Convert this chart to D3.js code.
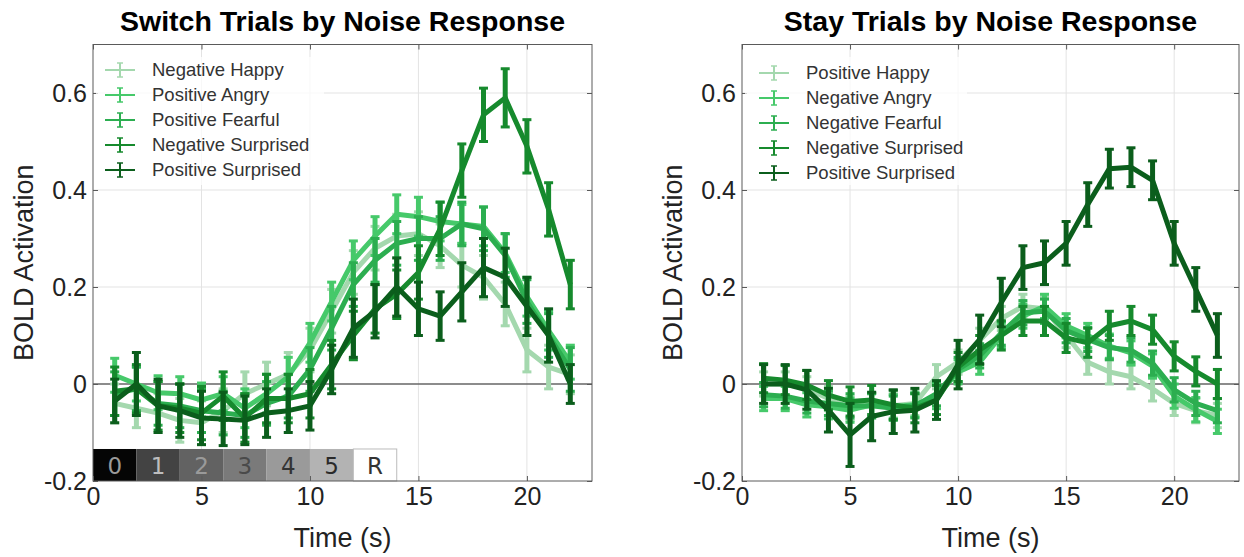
<!DOCTYPE html>
<html><head><meta charset="utf-8">
<script src="https://cdnjs.cloudflare.com/ajax/libs/d3/7.8.5/d3.min.js"></script>
<style>body{margin:0;background:#fff}svg{display:block}</style>
</head><body>
<script>
// ---------- DATA ----------
const times = [1,2,3,4,5,6,7,8,9,10,11,12,13,14,15,16,17,18,19,20,21,22];
const xTicks = [0,5,10,15,20];
const yTicks = [-0.2,0,0.2,0.4,0.6];
const yTickLabels = ["-0.2","0","0.2","0.4","0.6"];

const switchNames = ["Negative Happy","Positive Angry","Positive Fearful","Negative Surprised","Positive Surprised"];
const switchNegHappy     = [-0.04,-0.05,-0.06,-0.075,-0.08,-0.055,-0.02,0.0,0.02,0.07,0.15,0.23,0.28,0.305,0.31,0.285,0.245,0.22,0.165,0.07,0.035,0.02];
const switchPosAngry     = [0.018,0.0,-0.018,-0.02,-0.033,-0.02,-0.05,-0.02,0.015,0.085,0.17,0.255,0.305,0.35,0.345,0.335,0.33,0.325,0.27,0.18,0.11,0.045];
const switchPosFearful   = [-0.02,-0.01,-0.04,-0.045,-0.055,-0.06,-0.065,-0.04,-0.025,0.03,0.115,0.205,0.255,0.29,0.3,0.3,0.33,0.32,0.265,0.17,0.1,0.03];
const switchNegSurprised = [-0.015,-0.01,-0.045,-0.05,-0.06,-0.025,-0.07,-0.03,-0.03,-0.02,0.04,0.1,0.155,0.185,0.23,0.32,0.44,0.555,0.59,0.49,0.36,0.205];
const switchPosSurprised = [-0.035,0.0,-0.045,-0.055,-0.07,-0.072,-0.075,-0.06,-0.055,-0.045,0.03,0.115,0.15,0.2,0.155,0.14,0.19,0.24,0.22,0.16,0.1,0.0];
const switchErrNegHappy     = [0.04,0.04,0.04,0.045,0.045,0.045,0.045,0.045,0.045,0.045,0.045,0.045,0.045,0.045,0.045,0.045,0.045,0.045,0.045,0.045,0.045,0.04];
const switchErrPosAngry     = [0.035,0.035,0.035,0.035,0.035,0.035,0.04,0.04,0.04,0.04,0.04,0.04,0.04,0.04,0.04,0.04,0.04,0.04,0.04,0.04,0.04,0.035];
const switchErrPosFearful   = [0.045,0.045,0.045,0.045,0.045,0.045,0.045,0.045,0.045,0.045,0.045,0.045,0.045,0.045,0.045,0.045,0.045,0.045,0.045,0.045,0.045,0.045];
const switchErrNegSurprised = [0.05,0.05,0.05,0.05,0.055,0.05,0.05,0.05,0.05,0.05,0.05,0.05,0.05,0.05,0.055,0.055,0.055,0.055,0.06,0.055,0.055,0.05];
const switchErrPosSurprised = [0.045,0.065,0.055,0.055,0.055,0.055,0.05,0.05,0.045,0.05,0.05,0.06,0.055,0.06,0.055,0.05,0.06,0.06,0.06,0.06,0.055,0.04];

const stayNames = ["Positive Happy","Negative Angry","Negative Fearful","Negative Surprised","Positive Surprised"];
const stayPosHappy     = [0.0,0.0,-0.01,-0.03,-0.05,-0.045,-0.045,-0.04,0.015,0.045,0.09,0.135,0.16,0.155,0.1,0.045,0.025,0.015,-0.01,-0.04,-0.055,-0.065];
const stayNegAngry     = [-0.03,-0.03,-0.043,-0.047,-0.054,-0.043,-0.047,-0.043,-0.026,0.025,0.045,0.1,0.14,0.16,0.12,0.1,0.078,0.064,0.037,-0.025,-0.053,-0.077];
const stayNegFearful   = [-0.022,-0.025,-0.035,-0.04,-0.045,-0.045,-0.05,-0.045,-0.02,0.03,0.058,0.105,0.147,0.15,0.11,0.092,0.075,0.07,0.043,-0.012,-0.04,-0.055];
const stayNegSurprised = [0.012,0.008,-0.002,-0.023,-0.036,-0.033,-0.043,-0.05,-0.033,0.035,0.07,0.1,0.13,0.13,0.095,0.085,0.12,0.13,0.112,0.057,0.026,0.0];
const stayPosSurprised = [0.0,0.0,-0.012,-0.054,-0.105,-0.067,-0.057,-0.054,-0.033,0.04,0.092,0.168,0.24,0.25,0.29,0.37,0.444,0.447,0.42,0.29,0.195,0.1];
const stayErrPosHappy     = [0.025,0.025,0.025,0.025,0.025,0.025,0.025,0.025,0.025,0.025,0.025,0.025,0.025,0.025,0.025,0.025,0.025,0.025,0.025,0.025,0.025,0.025];
const stayErrNegAngry     = [0.025,0.025,0.025,0.025,0.025,0.025,0.025,0.025,0.025,0.025,0.025,0.025,0.025,0.025,0.025,0.025,0.025,0.025,0.025,0.025,0.025,0.025];
const stayErrNegFearful   = [0.025,0.025,0.025,0.025,0.025,0.025,0.025,0.025,0.025,0.025,0.025,0.025,0.025,0.025,0.025,0.025,0.025,0.025,0.025,0.025,0.025,0.025];
const stayErrNegSurprised = [0.03,0.03,0.03,0.03,0.03,0.03,0.03,0.03,0.03,0.03,0.03,0.03,0.03,0.03,0.03,0.03,0.03,0.03,0.03,0.03,0.03,0.03];
const stayErrPosSurprised = [0.04,0.04,0.04,0.045,0.065,0.05,0.045,0.045,0.04,0.05,0.05,0.05,0.045,0.045,0.045,0.045,0.04,0.04,0.04,0.045,0.045,0.045];

const phaseLabels = ["0","1","2","3","4","5","R"];
const phaseStarts = [0,2,4,6,8,10,12];
const phaseWidth = 2;

// ---------- STYLES ----------
const seriesColors = ["#a4d8ae","#46c96a","#2cae50","#168a2d","#0b5e1c"];
const phaseFills = ["#050505","#434343","#626262","#7a7a7a","#9a9a9a","#b3b3b3","#ffffff"];
const phaseText  = ["#9a9a9a","#bdbdbd","#9a9a9a","#4a4a4a","#333333","#2a2a2a","#333333"];

const W = 1244, H = 557;
const svg = d3.select("body").append("svg").attr("width", W).attr("height", H);
const FONT = "'Liberation Sans', Arial, Helvetica, sans-serif";

function panel(opts) {
  const x = d3.scaleLinear().domain([0,23]).range(opts.xr);
  const y = d3.scaleLinear().domain([-0.2,0.7]).range([481,44.5]);
  const g = svg.append("g");
  const [x0,x1] = opts.xr, y0 = 481, y1 = 44.5;

  // grid
  g.selectAll(".gx").data(xTicks.filter(t=>t>0)).join("line")
    .attr("x1", d=>x(d)).attr("x2", d=>x(d)).attr("y1", y0).attr("y2", y1)
    .attr("stroke", "#e3e3e3").attr("stroke-width", 1);
  g.selectAll(".gy").data(yTicks.filter(t=>t!==0 && t!==-0.2)).join("line")
    .attr("x1", x0).attr("x2", x1).attr("y1", d=>y(d)).attr("y2", d=>y(d))
    .attr("stroke", "#e3e3e3").attr("stroke-width", 1);
  // zero line
  g.append("line").attr("x1", x0).attr("x2", x1).attr("y1", y(0)).attr("y2", y(0))
    .attr("stroke", "#666").attr("stroke-width", 1.5);

  // phase bar
  if (opts.phase) {
    const pg = g.append("g");
    phaseStarts.forEach((s,i) => {
      pg.append("rect").attr("x", x(s)).attr("y", y(-0.134)).attr("width", x(s+phaseWidth)-x(s))
        .attr("height", y(-0.2)-y(-0.134)).attr("fill", phaseFills[i])
        .attr("stroke", i===6 ? "#bbb" : "none").attr("stroke-width", 1);
      pg.append("text").attr("x", x(s+phaseWidth/2)).attr("y", y(-0.2)-7)
        .attr("text-anchor","middle").attr("font-family","'DejaVu Sans', sans-serif")
        .attr("font-size", 23).attr("fill", phaseText[i]).text(phaseLabels[i]);
    });
  }

  // series
  const line = d3.line().x((d,i)=>x(times[i])).y(d=>y(d));
  opts.series.forEach((s,k) => {
    const c = seriesColors[k];
    const sg = g.append("g");
    sg.append("path").datum(s.v).attr("d", line).attr("fill","none")
      .attr("stroke", c).attr("stroke-width", 5).attr("stroke-linejoin","round");
    sg.selectAll(".eb").data(s.v).join("line")
      .attr("x1",(d,i)=>x(times[i])).attr("x2",(d,i)=>x(times[i]))
      .attr("y1",(d,i)=>y(d - s.e[i])).attr("y2",(d,i)=>y(d + s.e[i]))
      .attr("stroke", c).attr("stroke-width", 5);
    ["lo","hi"].forEach(side => {
      sg.selectAll(".cap"+side).data(s.v).join("line")
        .attr("x1",(d,i)=>x(times[i])-4.5).attr("x2",(d,i)=>x(times[i])+4.5)
        .attr("y1",(d,i)=>y(side==="lo" ? d - s.e[i] : d + s.e[i]))
        .attr("y2",(d,i)=>y(side==="lo" ? d - s.e[i] : d + s.e[i]))
        .attr("stroke", c).attr("stroke-width", 3);
    });
  });

  // frame
  g.append("rect").attr("x", x0).attr("y", y1).attr("width", x1-x0).attr("height", y0-y1)
    .attr("fill","none").attr("stroke","#5a5a5a").attr("stroke-width",1);

  // axes (ticks inward, labels)
  const ax = d3.axisBottom(x).tickValues(xTicks).tickSize(-5).tickPadding(6).tickFormat(d3.format("d"));
  const axg = g.append("g").attr("transform", `translate(0,${y0})`).call(ax);
  const at = d3.axisTop(x).tickValues(xTicks).tickSize(-5).tickFormat("");
  const atg = g.append("g").attr("transform", `translate(0,${y1})`).call(at);
  const ay = d3.axisLeft(y).tickValues(yTicks).tickSize(-5).tickPadding(6).tickFormat((d,i)=>yTickLabels[i]);
  const ayg = g.append("g").attr("transform", `translate(${x0},0)`).call(ay);
  const ar = d3.axisRight(y).tickValues(yTicks).tickSize(-5).tickFormat("");
  const arg = g.append("g").attr("transform", `translate(${x1},0)`).call(ar);
  [axg,atg,ayg,arg].forEach(a => {
    a.select(".domain").remove();
    a.selectAll(".tick line").attr("stroke","#5a5a5a");
    a.selectAll("text").attr("font-family", FONT).attr("font-size", 25).attr("fill","#222");
  });
  axg.selectAll("text").attr("dy","0.71em");
  ayg.selectAll("text").attr("dy","0.35em");

  // legend
  const lg = g.append("g");
  lg.append("rect").attr("x", x0+3).attr("y", 57).attr("width", opts.legW).attr("height", 128)
    .attr("fill","#fff").attr("fill-opacity",0.75);
  opts.series.forEach((s,k) => {
    const ly = opts.legY + k*25;
    const lx = opts.legX;
    const c = seriesColors[k];
    lg.append("line").attr("x1", lx).attr("x2", lx+30).attr("y1", ly).attr("y2", ly)
      .attr("stroke", c).attr("stroke-width", 2);
    lg.append("line").attr("x1", lx+15).attr("x2", lx+15).attr("y1", ly-7).attr("y2", ly+7)
      .attr("stroke", c).attr("stroke-width", 2);
    lg.append("line").attr("x1", lx+12).attr("x2", lx+18).attr("y1", ly-7).attr("y2", ly-7)
      .attr("stroke", c).attr("stroke-width", 1.5);
    lg.append("line").attr("x1", lx+12).attr("x2", lx+18).attr("y1", ly+7).attr("y2", ly+7)
      .attr("stroke", c).attr("stroke-width", 1.5);
    lg.append("text").attr("x", lx+47).attr("y", ly).attr("dy","0.35em")
      .attr("font-family", FONT).attr("font-size", 18.5).attr("fill","#333").text(s.name);
  });

  // titles
  const cx = (x0+x1)/2;
  g.append("text").attr("x", cx).attr("y", 31).attr("text-anchor","middle")
    .attr("font-family", FONT).attr("font-weight","bold").attr("font-size", 28.5).attr("fill","#000")
    .text(opts.title);
  g.append("text").attr("x", cx).attr("y", 547).attr("text-anchor","middle")
    .attr("font-family", FONT).attr("font-size", 27).attr("fill","#222").text("Time (s)");
  g.append("text").attr("transform", `translate(${opts.ylabX},${(y0+y1)/2}) rotate(-90)`)
    .attr("text-anchor","middle").attr("font-family", FONT).attr("font-size", 27).attr("fill","#222")
    .text("BOLD Activation");
}

panel({
  xr: [93, 592], title: "Switch Trials by Noise Response", ylabX: 33, phase: true,
  legX: 105, legY: 70, legW: 228,
  series: [
    {name: switchNames[0], v: switchNegHappy, e: switchErrNegHappy},
    {name: switchNames[1], v: switchPosAngry, e: switchErrPosAngry},
    {name: switchNames[2], v: switchPosFearful, e: switchErrPosFearful},
    {name: switchNames[3], v: switchNegSurprised, e: switchErrNegSurprised},
    {name: switchNames[4], v: switchPosSurprised, e: switchErrPosSurprised}
  ]
});
panel({
  xr: [742, 1239], title: "Stay Trials by Noise Response", ylabX: 682, phase: false,
  legX: 759, legY: 73, legW: 222,
  series: [
    {name: stayNames[0], v: stayPosHappy, e: stayErrPosHappy},
    {name: stayNames[1], v: stayNegAngry, e: stayErrNegAngry},
    {name: stayNames[2], v: stayNegFearful, e: stayErrNegFearful},
    {name: stayNames[3], v: stayNegSurprised, e: stayErrNegSurprised},
    {name: stayNames[4], v: stayPosSurprised, e: stayErrPosSurprised}
  ]
});
</script>
</body></html>
